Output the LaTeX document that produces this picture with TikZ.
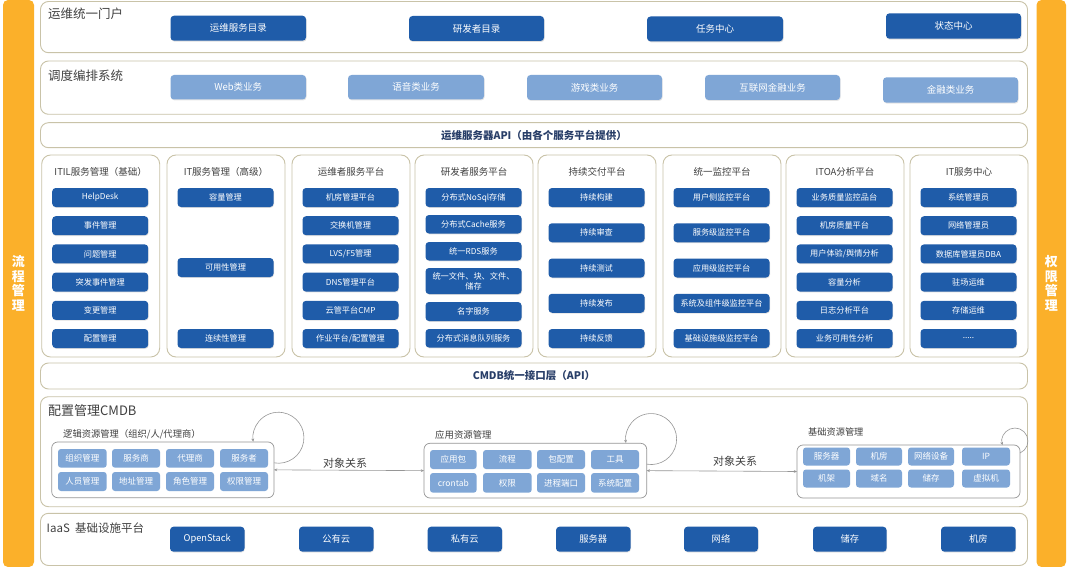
\documentclass[tikz,border=0pt]{standalone}
\usepackage{fontspec}
\setmainfont{Noto Sans CJK SC}
\usetikzlibrary{shadows,arrows.meta}
\definecolor{orangebar}{RGB}{251,176,42}
\definecolor{dblue}{RGB}{31,92,169}
\definecolor{lblue}{RGB}{127,166,214}
\definecolor{frame}{RGB}{201,195,168}
\definecolor{subframe}{RGB}{150,150,150}
\definecolor{titlegray}{RGB}{64,64,64}
\definecolor{navy}{RGB}{40,62,104}
\definecolor{linegray}{RGB}{150,150,150}
\newcommand\fs[1]{\fontsize{#1}{#1}\selectfont}
% box by corners: style, name, x1, y1, x2, y2, text  (y measured downward)
\newcommand\bx[7]{\node[#1, anchor=north west, minimum width={#5-#3}, minimum height={#6-#4}] (#2) at (#3,-#4) {#7};}
% panel button: name, panel left, top, height, text
\newcommand\pb[5]{\node[pbtn, anchor=north west, minimum width=96, minimum height=#4] (#1) at ({#2+10.5},{-#3}) {#5};}
\tikzset{
  bar/.style={fill=orangebar, rounded corners=5pt, inner sep=0pt, outer sep=0pt, text=white, align=center, font=\bfseries\fontsize{13}{14.5}\selectfont},
  layer/.style={draw=frame, line width=0.9pt, rounded corners=8pt, fill=white, inner sep=0pt, outer sep=0pt},
  apitext/.style={text=navy, font=\bfseries\fs{10.5}},
  panel/.style={draw=frame, line width=0.9pt, rounded corners=9pt, fill=white, inner sep=0pt, outer sep=0pt},
  sub/.style={draw=subframe, line width=0.7pt, rounded corners=6pt, fill=white, inner sep=0pt, outer sep=0pt},
  btnbase/.style={rounded corners=3.5pt, text=white, inner sep=0pt, outer sep=0pt, align=center},
  dbtn/.style={btnbase, fill=dblue, font=\fs{9.5}, drop shadow={shadow xshift=0.6pt, shadow yshift=-1pt, opacity=0.25}},
  lbtn/.style={btnbase, fill=lblue, font=\fs{9.5}, drop shadow={shadow xshift=0.6pt, shadow yshift=-1pt, opacity=0.2}},
  pbtn/.style={btnbase, fill=dblue, font=\fontsize{8.2}{10}\selectfont, drop shadow={shadow xshift=0.5pt, shadow yshift=-0.8pt, opacity=0.25}},
  cbtn/.style={btnbase, fill=lblue, rounded corners=3pt, font=\fs{8.5}},
  ibtn/.style={btnbase, fill=dblue, font=\fs{9.3}, drop shadow={shadow xshift=0.5pt, shadow yshift=-0.8pt, opacity=0.2}},
  ttl/.style={anchor=west, text=titlegray, inner sep=0pt},
  ptitle/.style={text=titlegray, inner sep=0pt, font=\fs{9.5}},
  conn/.style={draw=linegray, line width=0.6pt},
  tip/.style={-{Stealth[length=3.2pt,width=2.8pt]}},
  reltext/.style={text=titlegray, inner sep=0pt, font=\fs{11}}
}
\begin{document}
\begin{tikzpicture}[x=1pt,y=1pt]
\useasboundingbox (0,0) rectangle (1071,-567);
\fill[white] (0,0) rectangle (1071,-567);

% side bars
\bx{bar}{lbar}{3}{0}{34}{567}{流\\程\\管\\理}
\bx{bar}{rbar}{1036.5}{0}{1066}{567}{权\\限\\管\\理}

% layer 1: portal
\bx{layer}{portal}{40.5}{1.5}{1027.5}{52.7}{}
\node[ttl, font=\fs{12.5}] (portalT) at (48,-14) {运维统一门户};
\bx{dbtn}{p1}{170.5}{15.7}{306}{40.7}{运维服务目录}
\bx{dbtn}{p2}{409}{16}{544}{41}{研发者目录}
\bx{dbtn}{p3}{647}{16.5}{783}{41.3}{任务中心}
\bx{dbtn}{p4}{886}{13.3}{1021}{38.7}{状态中心}

% layer 2: scheduling
\bx{layer}{sched}{40.5}{61}{1027.5}{114.3}{}
\node[ttl, font=\fs{12.5}] (schedT) at (48,-76) {调度编排系统};
\bx{lbtn}{s1}{170.5}{75}{306}{99.5}{Web类业务}
\bx{lbtn}{s2}{348}{75}{484}{99.5}{语音类业务}
\bx{lbtn}{s3}{527}{75}{662}{100}{游戏类业务}
\bx{lbtn}{s4}{705}{75}{840}{100}{互联网金融业务}
\bx{lbtn}{s5}{883}{77.3}{1018}{102.7}{金融类业务}

% layer 3: API
\bx{layer, apitext}{api}{40.5}{122.7}{1027.5}{147.7}{运维服务器API（由各个服务平台提供）}

% layer 4: panels
\bx{panel}{pa}{41.7}{155}{159.7}{357}{}
\bx{panel}{pb}{167}{155}{285}{357}{}
\bx{panel}{pc}{292}{155}{410}{357}{}
\bx{panel}{pd}{415}{155}{533}{357}{}
\bx{panel}{pe}{538}{155}{656}{357}{}
\bx{panel}{pf}{663}{155}{781}{357}{}
\bx{panel}{pg}{786}{155}{904}{357}{}
\bx{panel}{ph}{910}{155}{1028}{357}{}

\node[ptitle] (taT) at (100.7,-171.5) {ITIL服务管理（基础）};
\node[ptitle] (tbT) at (226,-171.5) {IT服务管理（高级）};
\node[ptitle] (tcT) at (351,-171.5) {运维者服务平台};
\node[ptitle] (tdT) at (474,-171.5) {研发者服务平台};
\node[ptitle] (teT) at (597,-171.5) {持续交付平台};
\node[ptitle] (tfT) at (722,-171.5) {统一监控平台};
\node[ptitle] (tgT) at (845,-171.5) {ITOA分析平台};
\node[ptitle] (thT) at (969,-171.5) {IT服务中心};

% panel a
\pb{a1}{41.7}{188}{19}{HelpDesk}
\pb{a2}{41.7}{216.2}{19}{事件管理}
\pb{a3}{41.7}{244.4}{19}{问题管理}
\pb{a4}{41.7}{272.6}{19}{突发事件管理}
\pb{a5}{41.7}{300.8}{19}{变更管理}
\pb{a6}{41.7}{329}{19}{配置管理}
% panel b
\pb{b1}{167}{188}{19}{容量管理}
\pb{b2}{167}{258}{19}{可用性管理}
\pb{b3}{167}{329}{19}{连续性管理}
% panel c
\pb{c1}{292}{188}{19}{机房管理平台}
\pb{c2}{292}{216.2}{19}{交换机管理}
\pb{c3}{292}{244.4}{19}{LVS/F5管理}
\pb{c4}{292}{272.6}{19}{DNS管理平台}
\pb{c5}{292}{300.8}{19}{云管平台CMP}
\pb{c6}{292}{329}{19}{作业平台/配置管理}
% panel d
\pb{d1}{415}{188}{19}{分布式NoSql存储}
\pb{d2}{415}{215}{18.5}{分布式Cache服务}
\pb{d3}{415}{242}{18.5}{统一RDS服务}
\pb{d4}{415}{268}{26}{统一文件、块、文件、\\储存}
\pb{d5}{415}{302}{19}{名字服务}
\pb{d6}{415}{329}{18.5}{分布式消息队列服务}
% panel e
\pb{e1}{538}{188}{19}{持续构建}
\pb{e2}{538}{223.25}{19}{持续审查}
\pb{e3}{538}{258.5}{19}{持续测试}
\pb{e4}{538}{293.75}{19}{持续发布}
\pb{e5}{538}{329}{19}{持续反馈}
% panel f
\pb{f1}{663}{188}{19}{用户侧监控平台}
\pb{f2}{663}{223.25}{19}{服务级监控平台}
\pb{f3}{663}{258.5}{19}{应用级监控平台}
\pb{f4}{663}{293.75}{19}{系统及组件级监控平台}
\pb{f5}{663}{329}{19}{基础设施级监控平台}
% panel g
\pb{g1}{786}{188}{19}{业务质量监控品台}
\pb{g2}{786}{216.2}{19}{机房质量平台}
\pb{g3}{786}{244.4}{19}{用户体验/舆情分析}
\pb{g4}{786}{272.6}{19}{容量分析}
\pb{g5}{786}{300.8}{19}{日志分析平台}
\pb{g6}{786}{329}{19}{业务可用性分析}
% panel h
\pb{h1}{910}{188}{19}{系统管理员}
\pb{h2}{910}{216.2}{19}{网络管理员}
\pb{h3}{910}{244.4}{19}{数据库管理员DBA}
\pb{h4}{910}{272.6}{19}{驻场运维}
\pb{h5}{910}{300.8}{19}{存储运维}
\pb{h6}{910}{329}{19}{.....}

% layer 5: CMDB API
\bx{layer, apitext}{cmdbapi}{40.5}{363}{1027.5}{389}{CMDB统一接口层（API）}

% layer 6: CMDB
\bx{layer}{cmdb}{40.5}{396.7}{1027.5}{506.7}{}
\node[ttl, font=\fs{13}] (cmdbT) at (48,-411) {配置管理CMDB};
\node[ttl, font=\fs{9.3}] (logicT) at (63,-434) {逻辑资源管理（组织/人/代理商）};
\node[ttl, font=\fs{9.4}] (appT) at (435,-435) {应用资源管理};
\node[ttl, font=\fs{9.2}] (baseT) at (808,-432) {基础资源管理};

\bx{sub}{logic}{51.7}{442}{274}{497.7}{}
\bx{cbtn}{l1}{58}{449}{106.7}{467.7}{组织管理}
\bx{cbtn}{l2}{112}{449}{160}{467.7}{服务商}
\bx{cbtn}{l3}{166}{449}{214}{467.7}{代理商}
\bx{cbtn}{l4}{220}{449}{268}{467.7}{服务者}
\bx{cbtn}{l5}{58}{472}{106.7}{491}{人员管理}
\bx{cbtn}{l6}{112}{472}{160}{491}{地址管理}
\bx{cbtn}{l7}{166}{472}{214}{491}{角色管理}
\bx{cbtn}{l8}{220}{472}{268}{491}{权限管理}

\bx{sub}{app}{424}{443.3}{646.7}{498}{}
\bx{cbtn}{a1c}{430}{450}{476.7}{469}{应用包}
\bx{cbtn}{a2c}{483}{450}{531.7}{469}{流程}
\bx{cbtn}{a3c}{537}{450}{585}{469}{包配置}
\bx{cbtn}{a4c}{591}{450}{639}{469}{工具}
\bx{cbtn}{a5c}{430}{473}{476.7}{492.7}{crontab}
\bx{cbtn}{a6c}{483}{473}{531.7}{492.7}{权限}
\bx{cbtn}{a7c}{537}{473}{585}{492.7}{进程端口}
\bx{cbtn}{a8c}{591}{473}{639}{492.7}{系统配置}

\bx{sub}{base}{797}{445}{1020}{498}{}
\bx{cbtn}{r1}{803}{447.5}{850}{465.5}{服务器}
\bx{cbtn}{r2}{856}{447.5}{902}{465.5}{机房}
\bx{cbtn}{r3}{908}{447.5}{954}{465.5}{网络设备}
\bx{cbtn}{r4}{962}{447.5}{1010}{465.5}{IP}
\bx{cbtn}{r5}{803}{469.5}{850}{487.5}{机架}
\bx{cbtn}{r6}{856}{469.5}{902}{487.5}{域名}
\bx{cbtn}{r7}{908}{469.5}{954}{487.5}{储存}
\bx{cbtn}{r8}{962}{469.5}{1010}{487.5}{虚拟机}

% relations
\draw[conn, {Stealth[length=3.2pt,width=2.8pt]}-{Stealth[length=3.2pt,width=2.8pt]}] (logic.east) -- (app.west);
\draw[conn, {Stealth[length=3.2pt,width=2.8pt]}-{Stealth[length=3.2pt,width=2.8pt]}] (app.east) -- (base.west);
\node[reltext] (rel1) at (345,-463) {对象关系};
\node[reltext] (rel2) at (735,-461) {对象关系};

% self loops
\draw[conn, tip] ([yshift=7pt]logic.east) arc[start angle=-100, end angle=189, radius=25.5];
\draw[conn, tip] ([yshift=6.5pt]app.east) arc[start angle=-100, end angle=189, radius=25.5];
\draw[conn, tip] ([yshift=18.5pt]base.east) arc[start angle=-67, end angle=198, radius=13];

% layer 7: IaaS
\bx{layer}{iaas}{40.5}{513.3}{1027.5}{565.5}{}
\node[ttl, font=\fs{11.5}] (iaasT) at (46.5,-528) {IaaS\ \ 基础设施平台};
\bx{ibtn}{i1}{170}{526.7}{244.5}{551.7}{OpenStack}
\bx{ibtn}{i2}{299}{526.7}{373.6}{551.7}{公有云}
\bx{ibtn}{i3}{427.6}{526.7}{502}{551.7}{私有云}
\bx{ibtn}{i4}{556}{526.7}{630.5}{551.7}{服务器}
\bx{ibtn}{i5}{684}{526.7}{758}{551.7}{网络}
\bx{ibtn}{i6}{813}{526.7}{886.6}{551.7}{储存}
\bx{ibtn}{i7}{941}{526.7}{1015.7}{551.7}{机房}
\end{tikzpicture}
\end{document}
